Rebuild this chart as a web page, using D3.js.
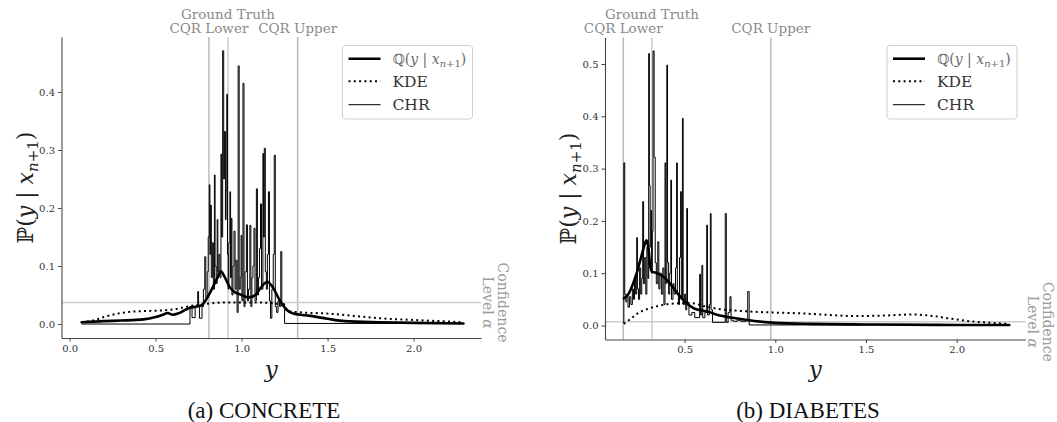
<!DOCTYPE html>
<html><head><meta charset="utf-8">
<script src="https://cdn.jsdelivr.net/npm/d3@7"></script>
<style>body{margin:0;background:#fff}svg{display:block}</style>
</head><body>
<svg id="chart" width="1057" height="422"></svg>
<script>
// ---------------- data ----------------
const panelTitles = ["(a) CONCRETE", "(b) DIABETES"];
const legendLabels = ["Q", "KDE", "CHR"];
const markerLabels = ["CQR Lower", "Ground Truth", "CQR Upper"];

// CONCRETE
const concreteXTicks = [0.0, 0.5, 1.0, 1.5, 2.0];
const concreteYTicks = [0.0, 0.1, 0.2, 0.3, 0.4];
const concreteMarkers = [0.81, 0.921, 1.326];   // CQR lower, ground truth, CQR upper
const concreteAlpha = 0.037;
const concreteQ = [[0.07,0.003],[0.2,0.005],[0.3,0.006],[0.43,0.008],[0.5,0.012],[0.55,0.017],[0.57,0.019],[0.6,0.016],[0.63,0.018],[0.67,0.024],[0.7,0.028],[0.74,0.03],[0.77,0.033],[0.8,0.045],[0.83,0.062],[0.86,0.08],[0.88,0.091],[0.9,0.082],[0.93,0.064],[0.96,0.055],[1.0,0.05],[1.04,0.046],[1.08,0.05],[1.11,0.062],[1.15,0.073],[1.18,0.064],[1.22,0.042],[1.26,0.025],[1.3,0.018],[1.4,0.014],[1.5,0.009],[1.6,0.005],[1.8,0.003],[2.0,0.002],[2.29,0.001]];
const concreteKDE = [[0.07,0.003],[0.15,0.007],[0.2,0.012],[0.3,0.019],[0.4,0.022],[0.5,0.023],[0.6,0.025],[0.7,0.031],[0.8,0.035],[0.9,0.037],[1.0,0.037],[1.1,0.037],[1.2,0.035],[1.24,0.032],[1.28,0.022],[1.35,0.02],[1.5,0.018],[1.65,0.014],[1.8,0.01],[2.0,0.007],[2.15,0.005],[2.29,0.003]];
const concreteCHR = [[0.07,0.0],[0.7,0.03],[0.712,0.011],[0.73,0.03],[0.745,0.056],[0.75,0.03],[0.755,0.01],[0.77,0.03],[0.778,0.06],[0.786,0.116],[0.792,0.045],[0.8,0.09],[0.806,0.15],[0.812,0.24],[0.816,0.12],[0.82,0.205],[0.824,0.08],[0.83,0.14],[0.836,0.06],[0.842,0.257],[0.846,0.1],[0.852,0.07],[0.858,0.18],[0.862,0.09],[0.868,0.12],[0.874,0.08],[0.88,0.293],[0.884,0.15],[0.89,0.471],[0.896,0.25],[0.9,0.332],[0.906,0.18],[0.91,0.23],[0.914,0.396],[0.918,0.12],[0.922,0.06],[0.926,0.14],[0.932,0.228],[0.936,0.08],[0.94,0.182],[0.944,0.05],[0.95,0.1],[0.956,0.16],[0.962,0.06],[0.968,0.11],[0.974,0.02],[0.98,0.445],[0.986,0.06],[0.992,0.08],[0.997,0.153],[1.002,0.04],[1.008,0.415],[1.014,0.03],[1.02,0.09],[1.028,0.171],[1.034,0.04],[1.04,0.06],[1.048,0.17],[1.054,0.03],[1.06,0.08],[1.066,0.1],[1.072,0.165],[1.078,0.04],[1.086,0.233],[1.092,0.05],[1.098,0.08],[1.104,0.13],[1.11,0.207],[1.116,0.06],[1.124,0.294],[1.128,0.15],[1.132,0.303],[1.138,0.09],[1.144,0.06],[1.15,0.12],[1.156,0.228],[1.162,0.04],[1.168,0.01],[1.176,0.06],[1.184,0.12],[1.19,0.291],[1.196,0.03],[1.204,0.02],[1.212,0.04],[1.22,0.03],[1.228,0.125],[1.234,0.035],[1.25,0.001],[2.29,0.001]];

// DIABETES
const diabetesXTicks = [0.5, 1.0, 1.5, 2.0];
const diabetesYTicks = [0.0, 0.1, 0.2, 0.3, 0.4, 0.5];
const diabetesMarkers = [0.162, 0.32, 0.975];
const diabetesAlpha = 0.007;
const diabetesQ = [[0.165,0.052],[0.19,0.06],[0.217,0.081],[0.24,0.105],[0.26,0.13],[0.28,0.155],[0.29,0.163],[0.3,0.15],[0.31,0.115],[0.32,0.103],[0.35,0.1],[0.38,0.094],[0.42,0.08],[0.46,0.062],[0.51,0.043],[0.55,0.033],[0.62,0.027],[0.71,0.018],[0.8,0.013],[0.9,0.008],[1.0,0.005],[1.2,0.003],[1.5,0.002],[2.0,0.001],[2.29,0.001]];
const diabetesKDE = [[0.165,0.003],[0.2,0.012],[0.25,0.025],[0.3,0.032],[0.35,0.037],[0.44,0.042],[0.53,0.043],[0.62,0.036],[0.7,0.031],[0.8,0.028],[0.97,0.025],[1.15,0.023],[1.3,0.02],[1.45,0.018],[1.6,0.019],[1.75,0.021],[1.85,0.019],[1.95,0.014],[2.05,0.009],[2.15,0.006],[2.29,0.003]];
const diabetesCHR = [[0.16,0.005],[0.165,0.311],[0.17,0.06],[0.176,0.045],[0.182,0.06],[0.188,0.035],[0.196,0.055],[0.204,0.04],[0.212,0.07],[0.218,0.05],[0.224,0.09],[0.23,0.06],[0.236,0.168],[0.24,0.07],[0.246,0.05],[0.252,0.11],[0.258,0.06],[0.264,0.09],[0.269,0.237],[0.274,0.08],[0.28,0.13],[0.286,0.06],[0.292,0.15],[0.298,0.09],[0.302,0.52],[0.306,0.268],[0.31,0.15],[0.314,0.22],[0.318,0.1],[0.322,0.18],[0.326,0.525],[0.332,0.322],[0.338,0.12],[0.344,0.08],[0.352,0.16],[0.358,0.07],[0.364,0.1],[0.372,0.06],[0.38,0.11],[0.386,0.04],[0.392,0.311],[0.396,0.08],[0.402,0.498],[0.406,0.12],[0.412,0.06],[0.418,0.1],[0.424,0.278],[0.428,0.05],[0.436,0.08],[0.442,0.06],[0.45,0.11],[0.456,0.311],[0.46,0.06],[0.466,0.04],[0.472,0.13],[0.478,0.256],[0.482,0.05],[0.488,0.396],[0.492,0.04],[0.5,0.06],[0.506,0.03],[0.512,0.224],[0.516,0.04],[0.524,0.02],[0.54,0.025],[0.556,0.015],[0.574,0.015],[0.583,0.098],[0.588,0.02],[0.595,0.115],[0.6,0.015],[0.612,0.025],[0.622,0.192],[0.626,0.02],[0.636,0.04],[0.642,0.214],[0.646,0.03],[0.654,0.006],[0.724,0.214],[0.73,0.006],[0.74,0.025],[0.75,0.055],[0.756,0.01],[0.77,0.008],[0.79,0.01],[0.81,0.008],[0.84,0.01],[0.848,0.065],[0.856,0.001],[2.29,0.001]];

// ---------------- drawing ----------------
const svg = d3.select("#chart");
const GRAY_TXT = "#8a8a8a";
const SERIF = "'DejaVu Serif', serif";

const panels = [
  {title: panelTitles[0], xr:[61.5,481], yr:[338,37], xd:[-0.047,2.392], yd:[-0.0241,0.4948],
   xTicks: concreteXTicks, yTicks: concreteYTicks, markers: concreteMarkers, alpha: concreteAlpha,
   Q: concreteQ, KDE: concreteKDE, CHR: concreteCHR, titleX: 264, confX: 503},
  {title: panelTitles[1], xr:[605,1025.5], yr:[339.5,37.5], xd:[0.0612,2.3793], yd:[-0.0268,0.5507],
   xTicks: diabetesXTicks, yTicks: diabetesYTicks, markers: diabetesMarkers, alpha: diabetesAlpha,
   Q: diabetesQ, KDE: diabetesKDE, CHR: diabetesCHR, titleX: 808, confX: 1048}
];

panels.forEach(p => {
  const x = d3.scaleLinear().domain(p.xd).range(p.xr);
  const y = d3.scaleLinear().domain(p.yd).range(p.yr);
  const g = svg.append("g");

  // marker vertical lines
  const mColors = ["#b4bcc8", "#cdcdcd", "#b4bcc8"];
  p.markers.forEach((m, i) => {
    g.append("line").attr("x1", x(m)).attr("x2", x(m))
      .attr("y1", p.yr[1]).attr("y2", p.yr[0])
      .attr("stroke", mColors[i]).attr("stroke-width", 1.5);
  });
  // confidence horizontal line
  g.append("line").attr("x1", p.xr[0]).attr("x2", p.xr[1])
    .attr("y1", y(p.alpha)).attr("y2", y(p.alpha))
    .attr("stroke", "#cccccc").attr("stroke-width", 1.5);

  // marker labels
  const lblY = [32.5, 18.5, 32.5];
  p.markers.forEach((m, i) => {
    g.append("text").attr("x", x(m)).attr("y", lblY[i])
      .attr("text-anchor", "middle").attr("font-family", SERIF)
      .attr("font-size", 13.5).attr("fill", GRAY_TXT).text(markerLabels[i]);
  });

  // series
  g.append("path").datum(p.CHR)
    .attr("d", d3.line().x(d => x(d[0])).y(d => y(d[1])).curve(d3.curveStepAfter))
    .attr("fill", "none").attr("stroke", "#000").attr("stroke-width", 1);
  g.append("path").datum(p.KDE)
    .attr("d", d3.line().x(d => x(d[0])).y(d => y(d[1])).curve(d3.curveMonotoneX))
    .attr("fill", "none").attr("stroke", "#000").attr("stroke-width", 2)
    .attr("stroke-dasharray", "2,3.3");
  g.append("path").datum(p.Q)
    .attr("d", d3.line().x(d => x(d[0])).y(d => y(d[1])).curve(d3.curveMonotoneX))
    .attr("fill", "none").attr("stroke", "#000").attr("stroke-width", 2.6)
    .attr("stroke-linejoin", "round").attr("stroke-linecap", "round");

  // axes
  const xa = g.append("g").attr("transform", `translate(0,${p.yr[0]})`)
    .call(d3.axisBottom(x).tickValues(p.xTicks).tickFormat(d3.format(".1f")).tickSize(3.5).tickSizeOuter(0).tickPadding(3));
  const ya = g.append("g").attr("transform", `translate(${p.xr[0]},0)`)
    .call(d3.axisLeft(y).tickValues(p.yTicks).tickFormat(d3.format(".1f")).tickSize(3.5).tickSizeOuter(0).tickPadding(3));
  [xa, ya].forEach(a => {
    a.select(".domain").attr("stroke", "#444").attr("stroke-width", 1.1);
    a.selectAll(".tick line").attr("stroke", "#444");
    a.selectAll(".tick text").attr("font-family", SERIF).attr("font-size", 10).attr("fill", "#333");
  });

  // axis labels
  const xMid = (p.xr[0] + p.xr[1]) / 2;
  g.append("text").attr("x", xMid).attr("y", 377).attr("text-anchor", "middle")
    .attr("font-family", SERIF).attr("font-style", "italic").attr("font-size", 23).attr("fill", "#222").text("y");
  const yMid = (p.yr[0] + p.yr[1]) / 2;
  const yl = g.append("text").attr("transform", `translate(${p.xr[0] - 29},${yMid}) rotate(-90)`)
    .attr("text-anchor", "middle").attr("font-family", SERIF).attr("font-size", 22).attr("fill", "#222");
  yl.append("tspan").text("ℙ(");
  yl.append("tspan").attr("font-style", "italic").text("y");
  yl.append("tspan").text(" | ");
  yl.append("tspan").attr("font-style", "italic").text("x");
  yl.append("tspan").attr("font-style", "italic").attr("font-size", 15).attr("dy", 5).text("n");
  yl.append("tspan").attr("font-size", 15).text("+1");
  yl.append("tspan").attr("dy", -5).text(")");

  // confidence label (rotated)
  const cy = y(p.alpha);
  g.append("text").attr("transform", `translate(${p.confX},${cy}) rotate(90)`)
    .attr("text-anchor", "middle").attr("dominant-baseline", "central")
    .attr("font-family", SERIF).attr("font-size", 14).attr("fill", "#9a9a9a").text("Confidence");
  const l2 = g.append("text").attr("transform", `translate(${p.confX - 15},${cy}) rotate(90)`)
    .attr("text-anchor", "middle").attr("dominant-baseline", "central")
    .attr("font-family", SERIF).attr("font-size", 14).attr("fill", "#9a9a9a");
  l2.append("tspan").text("Level ");
  l2.append("tspan").attr("font-style", "italic").text("α");

  // legend
  const lx1 = p.xr[1] - 138.5, lx2 = p.xr[1] - 8.5, ly1 = 45.5, ly2 = 119;
  const lg = g.append("g");
  lg.append("rect").attr("x", lx1).attr("y", ly1).attr("width", lx2 - lx1).attr("height", ly2 - ly1)
    .attr("rx", 3).attr("fill", "#fff").attr("fill-opacity", 0.85).attr("stroke", "#d0d0d0").attr("stroke-width", 1);
  const rows = [58.7, 81.3, 104.7];
  const styles = [{w:2.6, dash:null}, {w:2, dash:"2,3.3"}, {w:1, dash:null}];
  legendLabels.forEach((lab, i) => {
    const ln = lg.append("line").attr("x1", lx1 + 6).attr("x2", lx1 + 38)
      .attr("y1", rows[i]).attr("y2", rows[i]).attr("stroke", "#000").attr("stroke-width", styles[i].w);
    if (styles[i].dash) ln.attr("stroke-dasharray", styles[i].dash);
    const t = lg.append("text").attr("x", lx1 + 50).attr("y", rows[i] + 5.5)
      .attr("font-family", SERIF).attr("font-size", 15.5).attr("fill", "#333");
    if (lab === "Q") {
      t.attr("fill", "#6a6a6a").attr("font-size", 14);
      t.append("tspan").text("ℚ(");
      t.append("tspan").attr("font-style", "italic").text("y");
      t.append("tspan").text(" | ");
      t.append("tspan").attr("font-style", "italic").text("x");
      t.append("tspan").attr("font-style", "italic").attr("font-size", 10).attr("dy", 3).text("n");
      t.append("tspan").attr("font-size", 10).text("+1");
      t.append("tspan").attr("dy", -3).text(")");
    } else {
      t.text(lab);
    }
  });

  // panel title
  svg.append("text").attr("x", p.titleX).attr("y", 418).attr("text-anchor", "middle")
    .attr("font-family", "'Liberation Serif', 'Times New Roman', serif").attr("font-size", 23)
    .attr("fill", "#111").text(p.title);
});
</script>
</body></html>
